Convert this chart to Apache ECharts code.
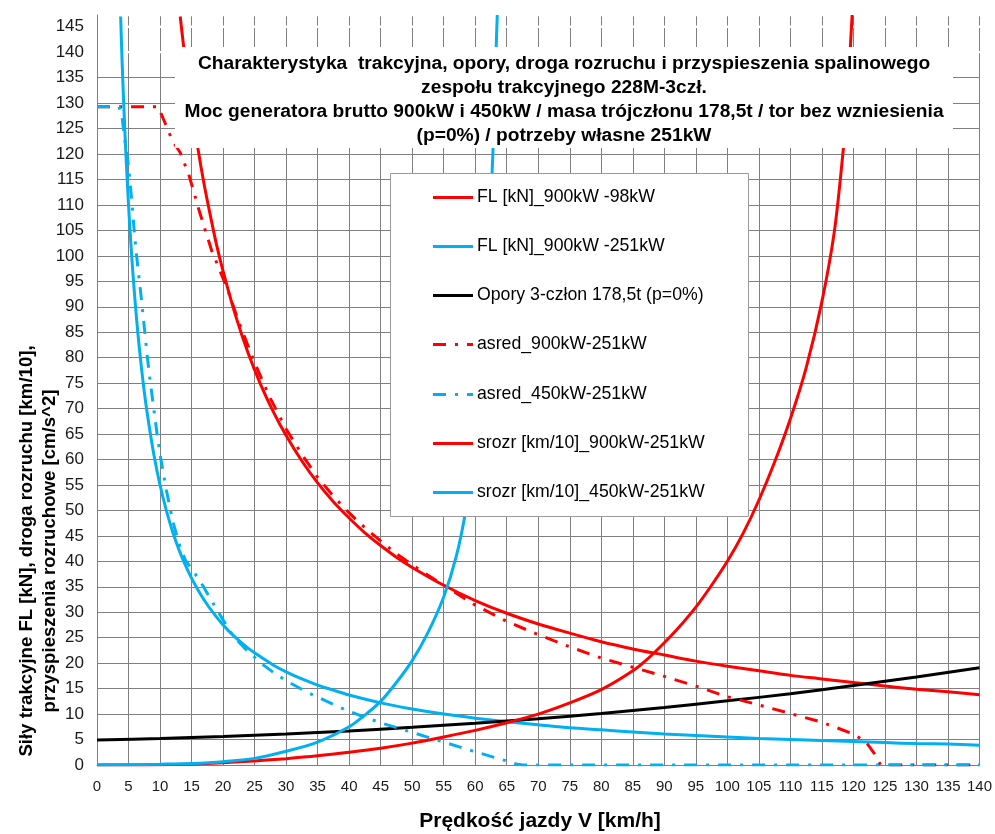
<!DOCTYPE html>
<html>
<head>
<meta charset="utf-8">
<script src="https://cdn.jsdelivr.net/npm/echarts@6/dist/echarts.min.js"></script>
<style>
  html, body { margin: 0; padding: 0; background: #fff; }
  #chart { width: 995px; height: 834px; }
</style>
</head>
<body>
<div id="chart"></div>
<script>
// Speed axis ticks [km/h] and value axis ticks
const xTicks = { min: 0, max: 140, step: 5 };
const yTicks = { min: 0, max: 147.3, step: 5 };
// horizontal grid lines that are left out at the top of the plot
const yGridOmitted = [140, 145, 147.3];

// Tractive effort FL [kN], 900 kW generator minus 98 kW own needs: [V, FL]
const fl900_98 = [
  [13.2,147],[14,138.5],[15,129.5],[16,121.2],[17,114],[18,107.8],[19,102],[20,97],
  [22,88.2],[24,80.8],[26,74.6],[28,69.3],[30,64.7],[32.5,59.7],[35,55.4],[37.5,51.7],
  [40,48.5],[42.5,45.6],[45,43.1],[47.5,40.8],[50,38.8],[55,35.3],[60,32.3],[65,29.8],
  [70,27.7],[75,25.9],[80,24.2],[85,22.8],[90,21.6],[95,20.4],[100,19.4],[105,18.5],
  [110,17.6],[115,16.9],[120,16.2],[125,15.5],[130,14.9],[135,14.4],[140,13.8]
];

// Tractive effort FL [kN], 900 kW minus 251 kW: [V, FL]
const fl900_251 = [
  [3.75,147],[4,137.5],[4.5,122.2],[5,110],[5.5,100],[6,91.7],[6.5,84.6],[7,78.6],
  [7.5,73.3],[8,68.8],[9,61.1],[10,55],[11,50],[12,45.8],[13,42.3],[14,39.3],[15,36.7],
  [16,34.4],[17,32.4],[18,30.6],[20,27.5],[22,25],[24,22.9],[26,21.2],[28,19.6],
  [30,18.3],[32.5,16.9],[35,15.7],[37.5,14.7],[40,13.75],[45,12.2],[50,11],[55,10],
  [60,9.2],[65,8.5],[70,7.9],[75,7.3],[80,6.9],[85,6.5],[90,6.1],[95,5.8],[100,5.5],
  [105,5.2],[110,5],[115,4.8],[120,4.6],[125,4.4],[130,4.2],[135,4.1],[140,3.9]
];

// Running resistance of the 3-car unit, 178.5 t, level track [kN]
const opory = [
  [0,4.9],[10,5.2],[20,5.6],[30,6.1],[40,6.7],[50,7.4],[60,8.2],[70,9.1],[80,10.1],
  [90,11.3],[100,12.6],[110,14.0],[120,15.6],[130,17.3],[140,19.1]
];

// Mean acceleration [cm/s^2], 900 kW - 251 kW
const asred900 = [
  [0,129.3],[5,129.3],[9.7,129.3],[11,125.5],[12,122.5],[13.2,120.3],[14.6,115.8],
  [16.3,108.5],[18.2,101],[20.6,93.8],[22.5,87],[25,79],[27.5,72],[30,66],[32.5,61],
  [35,56.5],[37.5,52.8],[40,49.5],[42.5,46.6],[45,44],[47.5,41.5],[50,39.3],[55,35.3],
  [60,31.4],[65,28.2],[70,25.6],[75,23.2],[80,21],[85,19.2],[90,17.4],[95,15.5],
  [100,13.4],[105,11.8],[110,10.1],[115,8.4],[120,6.1],[122,4.5],[123.3,2.3],
  [124.3,0],[130,0],[135,0],[140,0]
];

// Mean acceleration [cm/s^2], 450 kW - 251 kW
const asred450 = [
  [0,129.3],[3.5,129.3],[4,127],[4.5,122],[5,117.7],[5.5,111],[6,103.5],[6.5,97.5],
  [7,92],[7.5,86],[8,80],[8.5,74.8],[9,70],[9.5,65.3],[10,61],[11,54],[12,48],[13,43.5],
  [14,40.3],[15.6,37.5],[16.8,35.2],[18.4,31.8],[20,28.5],[21.6,25.3],[23.7,22.6],
  [26,20],[28.4,17.8],[31.1,15.8],[33.5,14.2],[36.3,12.6],[39.5,10.8],[42,9.6],
  [45,8.3],[50,6.4],[55,4.5],[60,2.6],[63,1.5],[65,0.8],[66.5,0.2],[67.5,0],[80,0],
  [100,0],[120,0],[140,0]
];

// Starting distance [km/10], 900 kW - 251 kW
const srozr900 = [
  [0,0],[5,0],[10,0.05],[15,0.2],[20,0.45],[25,0.8],[30,1.25],[35,1.8],[40,2.5],
  [45,3.3],[50,4.3],[55,5.5],[60,6.8],[65,8.3],[70,10],[75,12.2],[80,14.8],[85,18.5],
  [87.5,21],[90,24],[92.5,27.3],[95,31],[97.5,35.3],[100,40],[102.5,45.5],[105,52],
  [107.5,59.5],[110,68],[112.5,78],[115,91],[117,105],[118.4,121],[119.2,133],
  [119.6,143],[119.8,147.3]
];

// Starting distance [km/10], 450 kW - 251 kW
const srozr450 = [
  [0,0],[5,0.05],[10,0.15],[15,0.3],[20,0.65],[25,1.3],[30,2.7],[35,4.5],[40,7.5],
  [42.5,9.8],[45,12.5],[47.5,16.2],[50,20.5],[52.5,26],[55,33],[57,41],[58.5,50],
  [60,63],[61,78],[62,98],[62.8,120],[63.3,140],[63.5,147.3]
];

const seriesNames = [
  'FL [kN]_900kW -98kW',
  'FL [kN]_900kW -251kW',
  'Opory 3-człon 178,5t (p=0%)',
  'asred_900kW-251kW',
  'asred_450kW-251kW',
  'srozr [km/10]_900kW-251kW',
  'srozr [km/10]_450kW-251kW'
];

const titleLines = [
  'Charakterystyka  trakcyjna, opory, droga rozruchu i przyspieszenia spalinowego',
  'zespołu trakcyjnego 228M-3czł.',
  'Moc generatora brutto 900kW i 450kW / masa trójczłonu 178,5t / tor bez wzniesienia',
  '(p=0%) / potrzeby własne 251kW'
];
const yTitleLines = [
  'Siły trakcyjne FL [kN], droga rozruchu [km/10],',
  'przyspieszenia rozruchowe [cm/s^2]'
];
const xTitle = 'Prędkość jazdy V [km/h]';

const RED = '#ff0000', BLUE = '#00b0f0', BLACK = '#000000';
const seriesColors = [RED, BLUE, BLACK, RED, BLUE, RED, BLUE];
const seriesDashed = [false, false, false, true, true, false, false];
const seriesSmooth = [0.3, 0.3, 0.3, false, false, 0.3, 0.3];
const FONT = '"Liberation Sans", Arial, sans-serif';
const DASH_DOT = [13, 9, 3, 9];
const GRID_COLOR = '#808080';

const GRID = { left: 97, right: 12, top: 15, bottom: 69 };
const W = 995, H = 834;

function line(i, data) {
  return {
    name: seriesNames[i], type: 'line', data,
    showSymbol: false, symbol: 'none', smooth: seriesSmooth[i],
    lineStyle: { color: seriesColors[i], width: 3,
                 type: seriesDashed[i] ? DASH_DOT : 'solid', cap: 'butt' },
    itemStyle: { color: seriesColors[i] },
    emphasis: { disabled: true }
  };
}

// Legend panel: frame, sample strokes and captions
const legendBox = { x: 390, y: 173, w: 359, h: 344, first: 196.7, step: 49.2 };
const legendGraphics = [
  { type: 'rect', z: 5, shape: { x: legendBox.x + 0.5, y: legendBox.y + 0.5,
      width: legendBox.w - 1, height: legendBox.h - 1 },
    style: { fill: '#fff', stroke: '#9a9a9a', lineWidth: 1 } }
];
seriesNames.forEach((name, i) => {
  const y = Math.round(legendBox.first + i * legendBox.step) + 0.5;
  legendGraphics.push({
    type: 'line', z: 6,
    shape: { x1: 433, y1: y, x2: 473, y2: y },
    style: { stroke: seriesColors[i], lineWidth: 3,
             lineDash: seriesDashed[i] ? DASH_DOT : null, lineCap: 'butt' }
  });
  legendGraphics.push({
    type: 'text', z: 6, x: 477, y: y,
    style: { text: name, fill: '#000', font: '17.7px ' + FONT,
             align: 'left', verticalAlign: 'middle' }
  });
});

const chart = echarts.init(document.getElementById('chart'), null, { renderer: 'canvas' });

chart.setOption({
  animation: false,
  backgroundColor: '#fff',
  textStyle: { fontFamily: FONT },
  grid: Object.assign({ containLabel: false }, GRID),
  xAxis: {
    type: 'value', min: xTicks.min, max: xTicks.max, interval: xTicks.step,
    axisLine: { show: true, lineStyle: { color: GRID_COLOR, width: 1 } },
    axisTick: { show: false },
    axisLabel: { fontSize: 15, color: '#1a1a1a', margin: 14, fontFamily: FONT },
    splitLine: { show: true, lineStyle: { color: GRID_COLOR, width: 1 } }
  },
  yAxis: {
    type: 'value', min: yTicks.min, max: yTicks.max, interval: yTicks.step,
    axisLine: { show: true, lineStyle: { color: GRID_COLOR, width: 1 } },
    axisTick: { show: false },
    axisLabel: {
      fontSize: 17, color: '#1a1a1a', margin: 13, fontFamily: FONT,
      formatter: v => (Math.abs(v % yTicks.step) < 1e-6 ? String(v) : '')
    },
    splitLine: { show: true, lineStyle: { color: GRID_COLOR, width: 1 } }
  },
  series: [
    line(0, fl900_98),
    line(1, fl900_251),
    line(2, opory),
    line(3, asred900),
    line(4, asred450),
    line(5, srozr900),
    line(6, srozr450)
  ]
});

// Overlays placed after layout so they can use the axis scale
const overlays = [];
yGridOmitted.forEach(v => {
  const py = chart.convertToPixel({ gridIndex: 0 }, [0, v])[1];
  overlays.push({ type: 'rect', z: 1, silent: true,
    shape: { x: GRID.left + 1, y: py - 1.2, width: W - GRID.left - GRID.right - 1.5, height: 2.4 },
    style: { fill: '#fff' } });
});

chart.setOption({
  graphic: overlays.concat(legendGraphics).concat([
    // title panel
    { type: 'rect', z: 20, shape: { x: 175, y: 47, width: 778, height: 101 },
      style: { fill: '#fff' } },
    { type: 'text', z: 21, x: 564, y: 51.2,
      style: { text: titleLines.join('\n'), fill: '#000', font: 'bold 19.2px ' + FONT,
               align: 'center', verticalAlign: 'top', lineHeight: 24.2 } },
    // axis titles
    { type: 'text', z: 21, x: 27, y: 551, rotation: Math.PI / 2,
      style: { text: yTitleLines[0], fill: '#000', font: 'bold 18.6px ' + FONT,
               align: 'center', verticalAlign: 'middle' } },
    { type: 'text', z: 21, x: 50, y: 551, rotation: Math.PI / 2,
      style: { text: yTitleLines[1], fill: '#000', font: 'bold 18.6px ' + FONT,
               align: 'center', verticalAlign: 'middle' } },
    { type: 'text', z: 21, x: 540, y: 821,
      style: { text: xTitle, fill: '#000', font: 'bold 21px ' + FONT,
               align: 'center', verticalAlign: 'middle' } }
  ])
});
</script>
</body>
</html>
